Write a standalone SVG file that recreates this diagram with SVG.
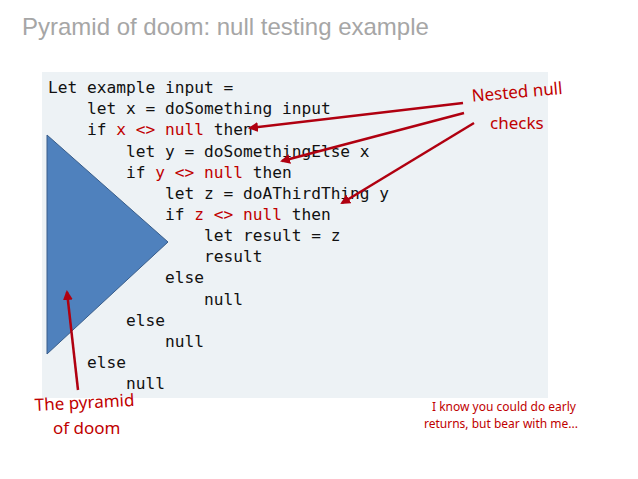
<svg xmlns="http://www.w3.org/2000/svg" width="638" height="479" viewBox="0 0 638 479">
<defs>
<style>
.code{font-family:"DejaVu Sans Mono","Liberation Mono",monospace;font-size:16.2px;fill:#111;white-space:pre}
.kw{fill:#c00000}
.hand{font-family:"Comic Sans MS","Noto Sans",sans-serif;fill:#c00000}
.arr{stroke:#b00010;stroke-width:2.5;fill:none;marker-end:url(#ah)}
</style>
<marker id="ah" viewBox="0 0 10 10" refX="8" refY="5" markerWidth="4" markerHeight="4" orient="auto"><path d="M0,0 L10,5 L0,10 Z" fill="#b00010"/></marker>
</defs>
<rect width="638" height="479" fill="#fff"/>
<text x="22" y="35" font-family="Liberation Sans,sans-serif" font-size="24" fill="#a6a6a6">Pyramid of doom: null testing example</text>
<g id="codebox">
<rect x="42" y="72" width="506" height="326" fill="#edf2f5"/>
<text class="code" xml:space="preserve">
<tspan x="48" y="93">Let example input =</tspan>
<tspan x="48" y="114">    let x = doSomething input</tspan>
<tspan x="48" y="135">    if <tspan class="kw">x &lt;&gt; null</tspan> then</tspan>
<tspan x="48" y="157">        let y = doSomethingElse x</tspan>
<tspan x="48" y="178">        if <tspan class="kw">y &lt;&gt; null</tspan> then</tspan>
<tspan x="48" y="199">            let z = doAThirdThing y</tspan>
<tspan x="48" y="220">            if <tspan class="kw">z &lt;&gt; null</tspan> then</tspan>
<tspan x="48" y="241">                let result = z</tspan>
<tspan x="48" y="262">                result</tspan>
<tspan x="48" y="283">            else</tspan>
<tspan x="48" y="305">                null</tspan>
<tspan x="48" y="326">        else</tspan>
<tspan x="48" y="347">            null</tspan>
<tspan x="48" y="368">    else</tspan>
<tspan x="48" y="389">        null</tspan>
</text>
</g>
<g id="pyramid"><polygon points="47,135 168,242 47,354" fill="#4f81bd" stroke="#385d8a" stroke-width="1"/></g>
<g id="connectors">
<path class="arr" d="M463,103 L250,128"/>
<path class="arr" d="M464,113 L282,161"/>
<path class="arr" d="M474,123 L342,203"/>
<path class="arr" d="M78,390 L67,292"/>
</g>
<g id="labels">
<text class="hand" font-size="17" transform="rotate(-5 470 100)" x="472" y="102">Nested null</text>
<text class="hand" font-size="17" x="490" y="129">checks</text>
<text class="hand" font-size="17" transform="rotate(-3 36 410)" x="35" y="411">The pyramid</text>
<text class="hand" font-size="17" x="53" y="434">of doom</text>
<text class="hand" font-size="12" x="432" y="411">I know you could do early</text>
<text class="hand" font-size="12" x="424" y="428">returns, but bear with me...</text>
</g>
</svg>
